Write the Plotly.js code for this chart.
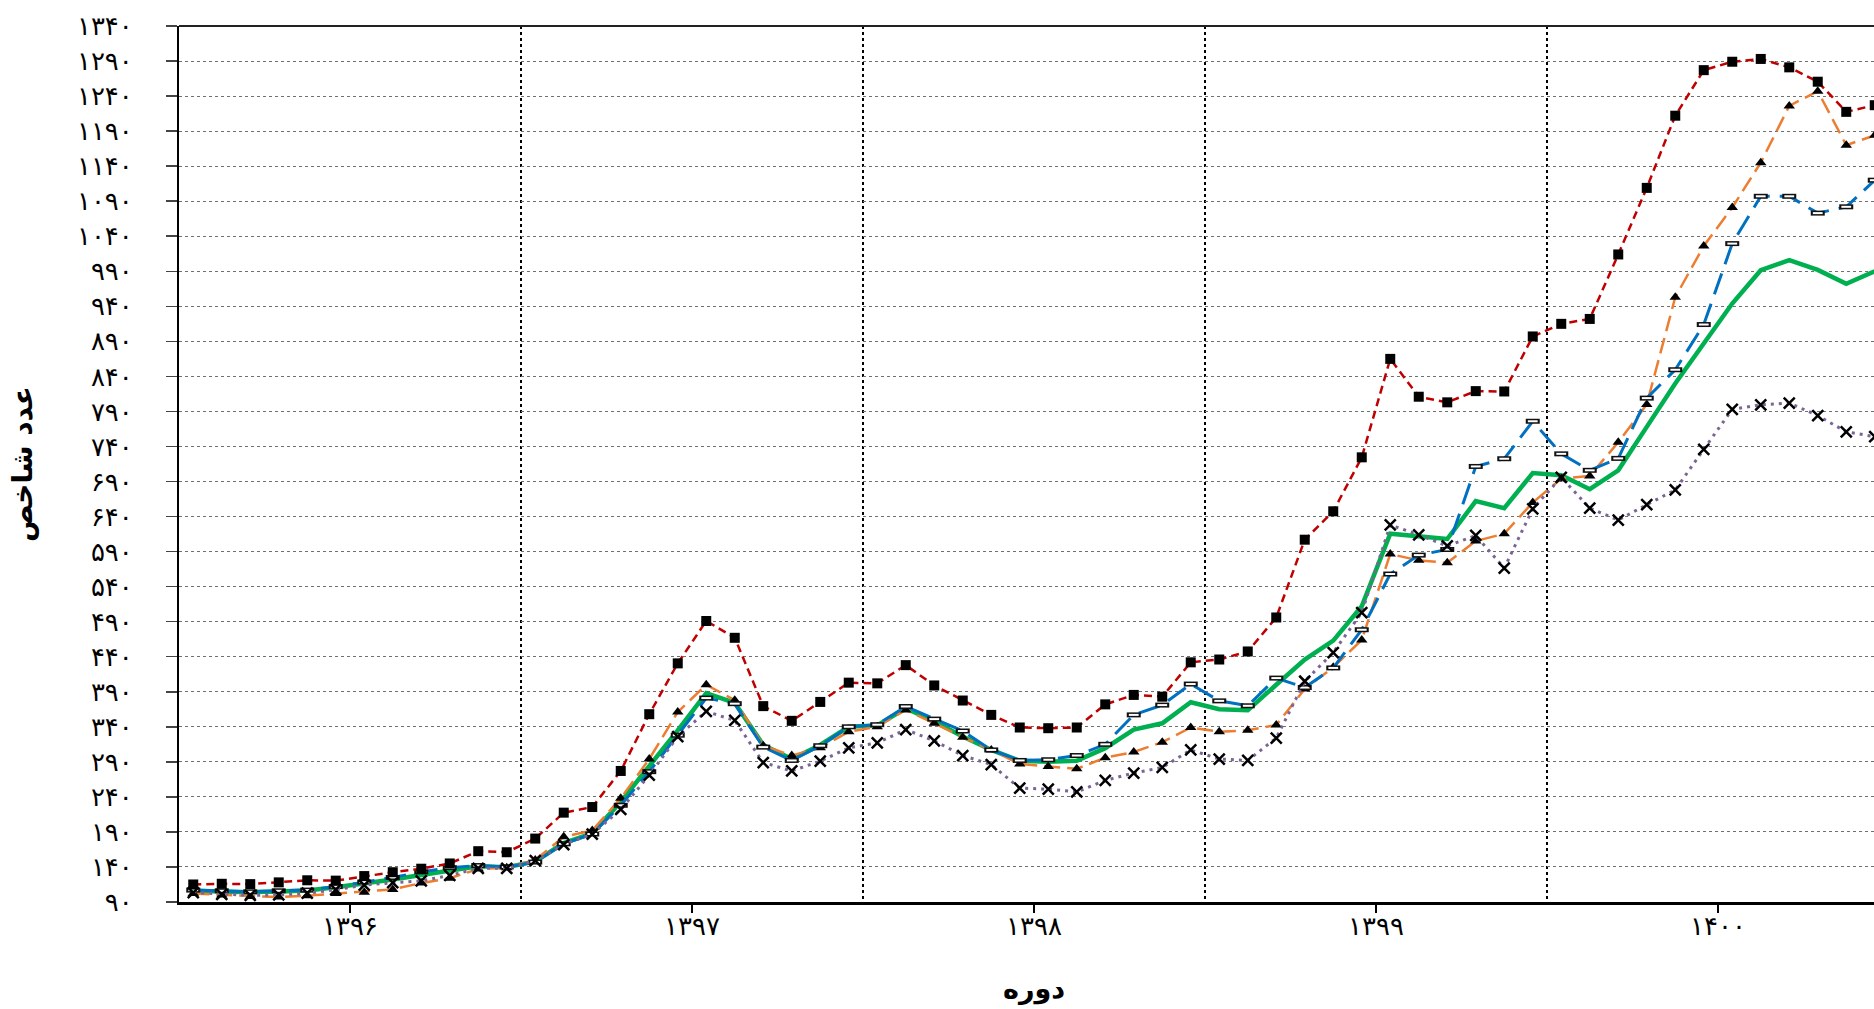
<!DOCTYPE html>
<html>
<head>
<meta charset="utf-8">
<script src="https://cdn.plot.ly/plotly-3.0.1.min.js"></script>
<style>
  html, body { margin: 0; padding: 0; overflow: hidden; background: #fff; }
  #chart { width: 1900px; height: 1009px; }
</style>
</head>
<body>
<div id="chart"></div>
<script>
// ---- Data (monthly index values, 1396 - 1400) ----
const yearLabels = ['۱۳۹۶', '۱۳۹۷', '۱۳۹۸', '۱۳۹۹', '۱۴۰۰'];
const monthsPerYear = 12;

const seriesRed = [
  115, 116, 115.5, 118, 121, 120.5, 127, 132.5, 137.5, 145, 162.5, 161,
  180.5, 217.5, 225.5, 277, 358, 430.5, 491, 467, 369.5, 348.5, 375.5, 403,
  402, 428, 399, 377.5, 357, 339, 338, 339, 372, 385.5, 383, 432,
  436, 447.5, 496, 607, 647.5, 724.5, 865, 811, 803, 819, 818.5, 897,
  915, 922, 1014, 1109, 1212, 1277, 1289, 1293, 1281, 1260.5, 1217.5, 1227
];
const seriesOrange = [
  102, 100, 98, 97, 99, 102, 104, 108, 117, 124, 137, 139,
  150, 183, 192, 238, 294, 361, 400, 378, 313, 299, 310, 333,
  340, 364, 345, 325, 307, 287, 283.5, 280, 296, 304, 318, 339,
  333, 335, 342.5, 394, 425, 464, 586.5, 577.5, 574, 605, 615.5, 660,
  694, 698, 746, 800, 953, 1026, 1081, 1145, 1226, 1247, 1170, 1184
];
const seriesBlue = [
  107, 106, 104.5, 106, 107, 112, 118.5, 125, 133, 139, 142, 140,
  147, 173, 187, 228, 276, 328, 381, 373, 311, 292, 313, 340,
  343, 369, 351, 334, 307, 292, 293, 299, 315, 357, 371, 401,
  377, 370, 409.5, 396, 424, 478.5, 558, 585, 593, 711.5, 722.5, 776,
  729.5, 706, 723, 809, 849.5, 914, 1029.5, 1097, 1097, 1073, 1082, 1120
];
const seriesGreen = [
  106, 105, 104, 105, 106.5, 111, 116, 122, 128.5, 135, 141, 139.5,
  148, 174, 188, 233, 283, 335, 388, 374, 314, 294, 314, 340,
  342, 366.5, 347.5, 326, 307, 291.5, 290, 291.5, 309.5, 336, 345, 375,
  365, 363.5, 400, 436, 463, 512, 615.5, 612, 608, 662, 652, 702,
  699, 679, 706, 768, 830, 887, 944, 991.5, 1006, 992, 972, 990
];
const seriesPurple = [
  103.5, 101, 99.5, 100, 102.5, 107.5, 114, 117.5, 120, 128, 138, 138,
  149, 172, 187, 222, 271, 326, 362, 349, 289, 277, 291, 310,
  317, 336, 320, 299, 286, 252.5, 251, 247, 263.5, 274, 282, 307,
  294, 292, 324, 405, 446, 503, 628, 614, 598, 613, 566.5, 651,
  696, 652, 635, 657, 678, 736, 793, 799.5, 802, 784, 761, 754
];

const yTickVals = [90, 140, 190, 240, 290, 340, 390, 440, 490, 540, 590, 640, 690,
  740, 790, 840, 890, 940, 990, 1040, 1090, 1140, 1190, 1240, 1290, 1340];
const yTickText = ['۹۰', '۱۴۰', '۱۹۰', '۲۴۰', '۲۹۰', '۳۴۰', '۳۹۰', '۴۴۰', '۴۹۰',
  '۵۴۰', '۵۹۰', '۶۴۰', '۶۹۰', '۷۴۰', '۷۹۰', '۸۴۰', '۸۹۰', '۹۴۰', '۹۹۰', '۱۰۴۰',
  '۱۰۹۰', '۱۱۴۰', '۱۱۹۰', '۱۲۴۰', '۱۲۹۰', '۱۳۴۰'];

// ---- Derived positions (month index along the axis) ----
const nMonths = seriesRed.length;
const monthIdx = Array.from({length: nMonths}, (_, i) => i);
const yearCenters = yearLabels.map((_, k) => k * monthsPerYear + (monthsPerYear - 1) / 2);
const yearBounds = Array.from({length: yearLabels.length + 1}, (_, k) => k * monthsPerYear - 0.5);

const FONT = '"DejaVu Sans", sans-serif';

const traces = [
  { x: monthIdx, y: seriesGreen, type: 'scatter', mode: 'lines',
    line: { color: '#00B050', width: 4.5 } },
  { x: monthIdx, y: seriesOrange, type: 'scatter', mode: 'lines+markers',
    line: { color: '#ED7D31', width: 2.5, dash: '16px,7px' },
    marker: { symbol: 'triangle-up', size: 10, color: '#000' } },
  { x: monthIdx, y: seriesBlue, type: 'scatter', mode: 'lines',
    line: { color: '#0070C0', width: 3, dash: '22px,10px' } },
  { x: monthIdx, y: seriesBlue, type: 'scatter', mode: 'markers',
    marker: { symbol: 'line-ew', size: 10, line: { color: '#111', width: 5 } } },
  { x: monthIdx, y: seriesBlue, type: 'scatter', mode: 'markers',
    marker: { symbol: 'line-ew', size: 7, line: { color: '#fff', width: 2 } } },
  { x: monthIdx, y: seriesPurple, type: 'scatter', mode: 'lines+markers',
    line: { color: '#7A6596', width: 3, dash: '3px,5px' },
    marker: { symbol: 'x-thin', size: 11, line: { color: '#000', width: 2.5 } } },
  { x: monthIdx, y: seriesRed, type: 'scatter', mode: 'lines+markers',
    line: { color: '#C00000', width: 2.5, dash: '8px,5px' },
    marker: { symbol: 'square', size: 10, color: '#000' } }
];

const layout = {
  width: 1900, height: 1009,
  margin: { l: 179, r: 11, t: 26, b: 107 },
  paper_bgcolor: '#fff', plot_bgcolor: '#fff',
  showlegend: false,
  font: { family: FONT, color: '#000' },
  xaxis: {
    range: [-0.5, nMonths - 0.5],
    tickmode: 'array', tickvals: yearCenters, ticktext: yearLabels,
    ticks: 'outside', ticklen: 8, tickwidth: 2, tickcolor: '#000',
    ticklabelstandoff: -9,
    tickfont: { size: 26, family: FONT },
    showgrid: false, zeroline: false,
    showline: true, linecolor: '#000', linewidth: 3,
    minor: { tickmode: 'array', tickvals: yearBounds, showgrid: true,
             gridcolor: '#000', griddash: 'dot', gridwidth: 1.5, ticks: '' },
    title: { text: 'دوره', font: { size: 27, family: FONT, weight: 'bold' }, standoff: 39 }
  },
  yaxis: {
    range: [90, 1340],
    tickmode: 'array', tickvals: yTickVals, ticktext: yTickText,
    ticks: 'outside', ticklen: 11, tickwidth: 1.5, tickcolor: '#444',
    ticklabelstandoff: 28,
    tickfont: { size: 26, family: FONT },
    showgrid: true, gridcolor: '#6f6f6f', griddash: 'dot', gridwidth: 1,
    zeroline: false,
    showline: true, linecolor: '#000', linewidth: 2,
    title: { text: 'عدد شاخص', font: { size: 28, family: FONT, weight: 'bold' }, standoff: 36 }
  },
  shapes: [
    { type: 'line', xref: 'paper', yref: 'paper', x0: 0, x1: 1, y0: 1, y1: 1,
      line: { color: '#222', width: 2 } }
  ]
};

Plotly.newPlot('chart', traces, layout, { displayModeBar: false, staticPlot: true });
</script>
</body>
</html>
